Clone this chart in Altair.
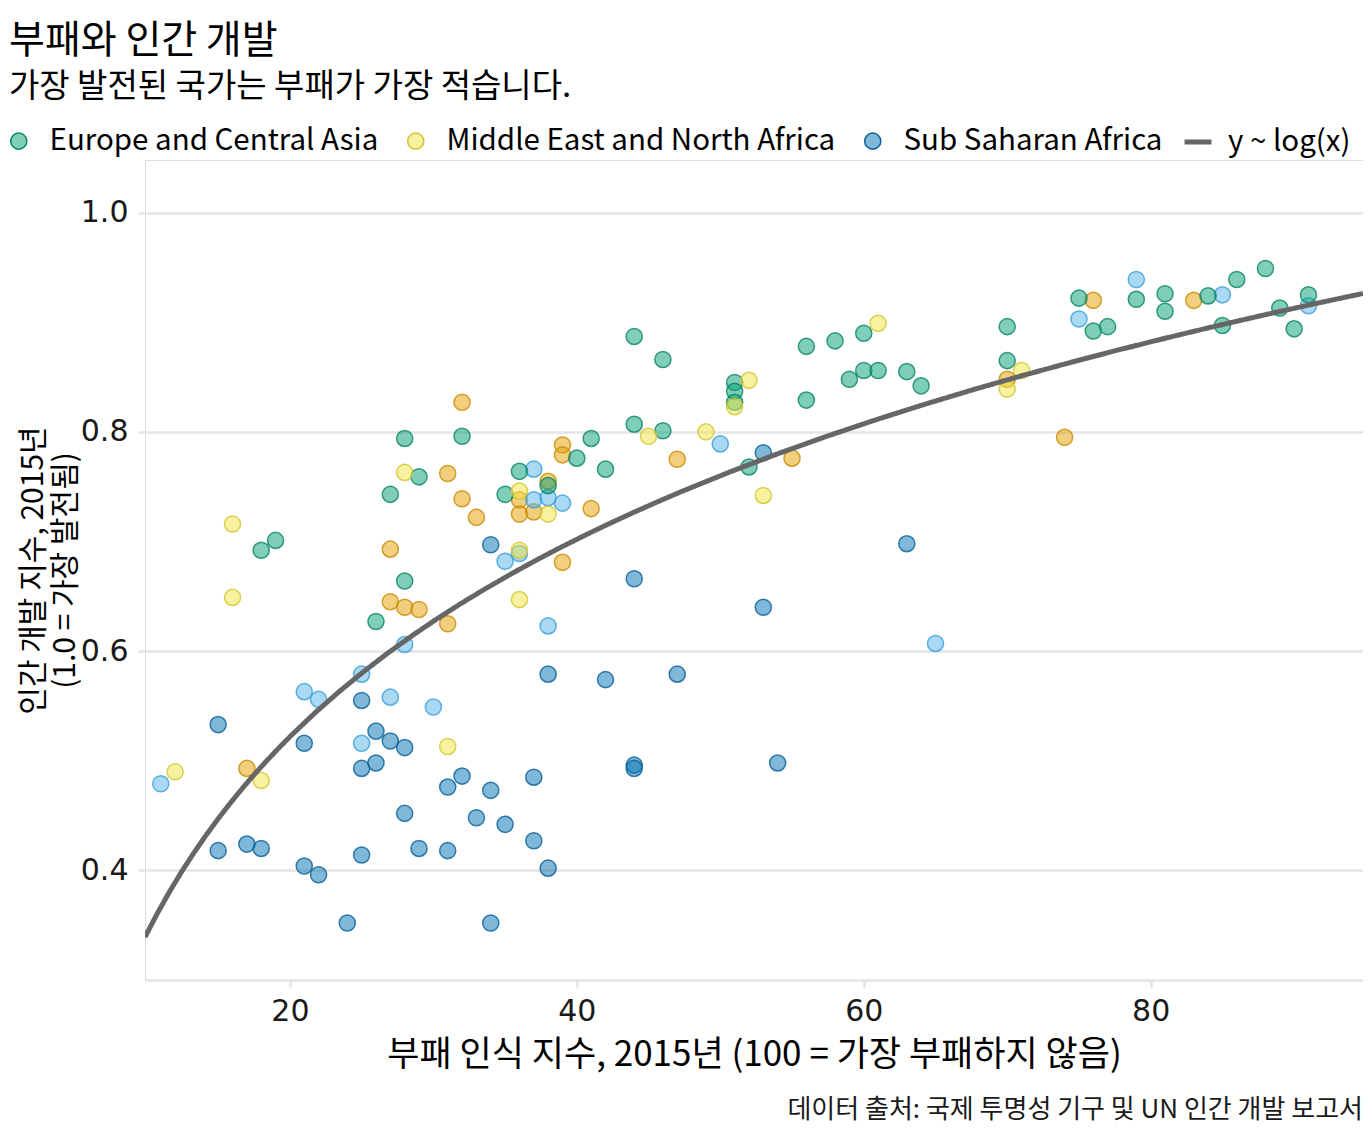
import altair as alt
import pandas as pd

KFONT = "Noto Sans CJK KR"
NFONT = "DejaVu Sans"

TITLE = "부패와 인간 개발"
SUBTITLE = "가장 발전된 국가는 부패가 가장 적습니다."
X_TITLE = "부패 인식 지수, 2015년 (100 = 가장 부패하지 않음)"
Y_TITLE = ["인간 개발 지수, 2015년", "(1.0 = 가장 발전됨)"]
CAPTION = "데이터 출처: 국제 투명성 기구 및 UN 인간 개발 보고서"
FIT_LABEL = "y ~ log(x)"

REGIONS = ["Americas", "Asia Pacific", "Europe and Central Asia",
           "Middle East and North Africa", "Sub Saharan Africa"]
LEGEND_SHOWN = ["Europe and Central Asia", "Middle East and North Africa",
                "Sub Saharan Africa"]
FILL_COLORS = ["rgba(230,159,0,0.5)", "rgba(86,180,233,0.5)",
               "rgba(0,158,115,0.5)", "rgba(240,228,66,0.5)",
               "rgba(0,114,178,0.5)"]
STROKE_COLORS = ["#C98B00", "#3A9FD8", "#0A8461", "#D1C531", "#0A5F96"]

X_TICKS = [20, 40, 60, 80]
Y_TICKS = [0.4, 0.6, 0.8, 1.0]

americas_cpi = [17, 27, 27, 28, 29, 31, 31, 32, 32, 33, 36, 36, 37, 38, 39, 39,
                39, 41, 47, 55, 70, 74, 76, 83]
americas_hdi = [0.493, 0.693, 0.645, 0.640, 0.638, 0.625, 0.762, 0.827, 0.739,
                0.722, 0.738, 0.725, 0.727, 0.755, 0.788, 0.779, 0.681, 0.730,
                0.775, 0.776, 0.848, 0.795, 0.920, 0.920]

asia_cpi = [11, 21, 22, 25, 25, 27, 28, 30, 35, 36, 37, 37, 38, 39, 38, 50, 65,
            75, 79, 85, 91]
asia_hdi = [0.479, 0.563, 0.556, 0.579, 0.516, 0.558, 0.606, 0.549, 0.682,
            0.689, 0.766, 0.738, 0.740, 0.735, 0.623, 0.789, 0.607, 0.903,
            0.939, 0.925, 0.915]

eca_cpi = [18, 19, 27, 28, 29, 28, 26, 32, 35, 36, 38, 40, 41, 42, 44, 44, 46,
           46, 51, 51, 51, 52, 56, 58, 60, 56, 59, 60, 61, 63, 64, 70, 70, 75,
           76, 77, 79, 81, 81, 84, 85, 86, 88, 89, 91, 90]
eca_hdi = [0.692, 0.701, 0.743, 0.794, 0.759, 0.664, 0.627, 0.796, 0.743,
           0.764, 0.751, 0.776, 0.794, 0.766, 0.887, 0.807, 0.866, 0.801,
           0.845, 0.837, 0.827, 0.768, 0.878, 0.883, 0.890, 0.829, 0.848,
           0.856, 0.856, 0.855, 0.842, 0.896, 0.865, 0.922, 0.892, 0.896,
           0.921, 0.926, 0.910, 0.924, 0.897, 0.939, 0.949, 0.913, 0.925,
           0.894]

mena_cpi = [16, 16, 12, 18, 28, 31, 36, 36, 36, 38, 45, 49, 51, 52, 53, 61, 70,
            71]
mena_hdi = [0.716, 0.649, 0.490, 0.482, 0.763, 0.513, 0.746, 0.692, 0.647,
            0.725, 0.796, 0.800, 0.823, 0.847, 0.742, 0.899, 0.839, 0.856]

ssa_cpi = [15, 15, 17, 18, 21, 21, 22, 24, 25, 25, 25, 26, 26, 27, 28, 28, 29,
           31, 31, 32, 33, 34, 34, 34, 35, 37, 37, 38, 38, 42, 44, 44, 44, 47,
           53, 53, 54, 63]
ssa_hdi = [0.533, 0.418, 0.424, 0.420, 0.516, 0.404, 0.396, 0.352, 0.555,
           0.493, 0.414, 0.527, 0.498, 0.518, 0.512, 0.452, 0.420, 0.476,
           0.418, 0.486, 0.448, 0.697, 0.473, 0.352, 0.442, 0.485, 0.427,
           0.579, 0.402, 0.574, 0.666, 0.496, 0.493, 0.579, 0.781, 0.640,
           0.498, 0.698]

series = [
    ("Americas", americas_cpi, americas_hdi),
    ("Asia Pacific", asia_cpi, asia_hdi),
    ("Europe and Central Asia", eca_cpi, eca_hdi),
    ("Middle East and North Africa", mena_cpi, mena_hdi),
    ("Sub Saharan Africa", ssa_cpi, ssa_hdi),
]
rows = []
for name, xs, ys in series:
    for a, b in zip(xs, ys):
        rows.append({"region": name, "cpi": a, "hdi": b})
df = pd.DataFrame(rows)

PLOT_W = 1218
PLOT_H = 820
X_DOMAIN = [9.9, 94.8]
Y_DOMAIN = [0.3, 1.048]

legend_common = dict(
    title=None, orient="none", direction="horizontal",
    labelFont=KFONT, labelFontSize=29.5, labelColor="#000000",
    labelLimit=0, labelOffset=16, columnPadding=22,
)

region_legend = alt.Legend(
    legendX=-141, legendY=-34, values=LEGEND_SHOWN,
    symbolType="circle", symbolSize=260, symbolStrokeWidth=1.5,
    **legend_common,
)

points = alt.Chart(df).mark_circle(
    size=260, opacity=1, fillOpacity=1, strokeOpacity=0.8, strokeWidth=1.5
).encode(
    x=alt.X("cpi:Q",
            scale=alt.Scale(domain=X_DOMAIN, nice=False, zero=False),
            axis=alt.Axis(values=X_TICKS, title=X_TITLE, grid=False,
                          domain=True, domainColor="#e3e3e3", domainWidth=2.5,
                          ticks=True, tickColor="#e3e3e3", tickWidth=2.5,
                          tickSize=7, labelPadding=9, titlePadding=11,
                          labelFont=NFONT, labelFontSize=30,
                          labelColor="#1a1a1a", titleFont=KFONT,
                          titleFontSize=35, titleFontWeight="normal",
                          titleColor="#000000")),
    y=alt.Y("hdi:Q",
            scale=alt.Scale(domain=Y_DOMAIN, nice=False, zero=False),
            axis=alt.Axis(values=Y_TICKS, format=".1f", title=Y_TITLE,
                          grid=True, gridColor="#e5e5e5", gridWidth=2.5,
                          domain=False, ticks=True, tickColor="#e5e5e5",
                          tickWidth=2.5, tickSize=7, labelPadding=10,
                          labelFont=NFONT, labelFontSize=30,
                          labelColor="#1a1a1a", titleFont=KFONT,
                          titleFontSize=30, titleFontWeight="normal",
                          titleColor="#000000", titleLineHeight=32,
                          titlePadding=0)),
    color=alt.Color("region:N",
                    scale=alt.Scale(domain=REGIONS, range=FILL_COLORS),
                    legend=region_legend),
    stroke=alt.Stroke("region:N",
                      scale=alt.Scale(domain=REGIONS, range=STROKE_COLORS),
                      legend=region_legend),
)

fit = alt.Chart(df).transform_regression(
    "cpi", "hdi", method="log", extent=X_DOMAIN
).transform_calculate(
    fit=f"'{FIT_LABEL}'"
).mark_line(color="#666666", strokeWidth=5, clip=True).encode(
    x="cpi:Q",
    y="hdi:Q",
    strokeDash=alt.StrokeDash(
        "fit:N",
        scale=alt.Scale(domain=[FIT_LABEL], range=[[1, 0]]),
        legend=alt.Legend(legendX=1037, legendY=-34, symbolType="stroke",
                          symbolSize=729, symbolStrokeWidth=5,
                          symbolStrokeColor="#666666",
                          **{**legend_common, "labelOffset": 14}),
    ),
)

caption = alt.Chart(pd.DataFrame({"t": [CAPTION]})).mark_text(
    align="right", baseline="middle", font=KFONT, fontSize=26,
    color="#1a1a1a"
).encode(
    text="t:N",
    x=alt.value(PLOT_W),
    y=alt.value(PLOT_H + 130),
)

chart = alt.layer(points, fit, caption).properties(
    width=PLOT_W,
    height=PLOT_H,
    title=alt.TitleParams(
        text=TITLE, subtitle=SUBTITLE, anchor="start", frame="bounds",
        font=KFONT, fontSize=39, fontWeight="normal", color="#000000",
        subtitleFont=KFONT, subtitleFontSize=33, subtitleColor="#000000",
        subtitlePadding=10, offset=22, dx=5,
    ),
    autosize=alt.AutoSizeParams(type="none"),
    padding={"left": 137, "top": 152, "right": 0, "bottom": 150},
).configure_view(stroke=None).configure(background="white")

chart.save("out.html", embed_options={"renderer": "svg", "actions": False})
